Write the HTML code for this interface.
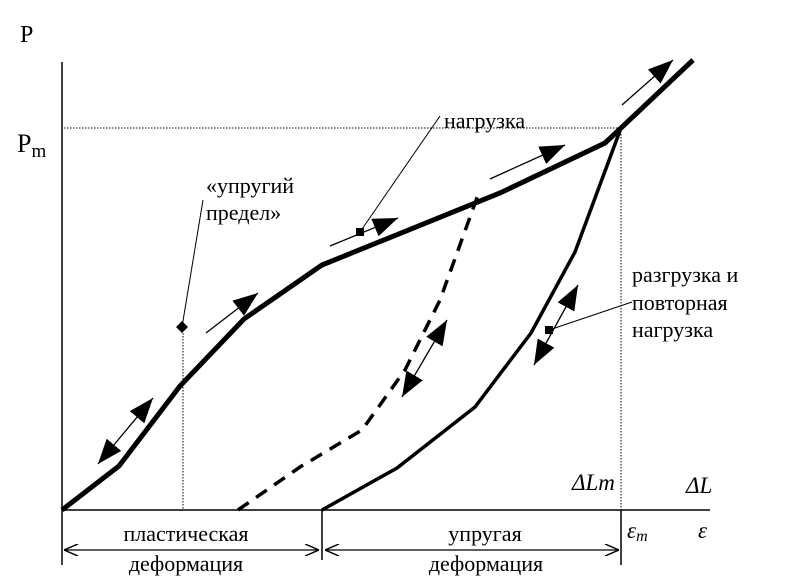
<!DOCTYPE html>
<html><head><meta charset="utf-8"><style>html,body{margin:0;padding:0;background:#fff}svg{display:block}text{font-family:"Liberation Serif",serif}</style></head>
<body>
<svg width="810" height="576" viewBox="0 0 810 576" xmlns="http://www.w3.org/2000/svg">
<defs>
<marker id="ah" viewBox="0 0 10 10" refX="10" refY="5" markerWidth="25" markerHeight="19" orient="auto-start-reverse" markerUnits="userSpaceOnUse" preserveAspectRatio="none">
<path d="M0,0 L10,5 L0,10 z" fill="#000"/>
</marker>
<marker id="sa" viewBox="0 0 10 10" refX="10" refY="5" markerWidth="14" markerHeight="12" orient="auto-start-reverse" markerUnits="userSpaceOnUse" preserveAspectRatio="none">
<path d="M0,0 L10,5 L0,10" fill="none" stroke="#000" stroke-width="1.2"/>
</marker>
</defs>
<line x1="62" y1="62" x2="62" y2="565" stroke="#000" stroke-width="1.5"/>
<line x1="62" y1="510" x2="710" y2="510" stroke="#000" stroke-width="1.5"/>
<line x1="322" y1="510" x2="322" y2="560" stroke="#000" stroke-width="1.5"/>
<line x1="621" y1="510" x2="621" y2="565" stroke="#000" stroke-width="1.5"/>
<line x1="64" y1="128" x2="620" y2="128" stroke="#000" stroke-width="1" stroke-dasharray="1.5,1.5"/>
<line x1="621" y1="128" x2="621" y2="510" stroke="#000" stroke-width="1" stroke-dasharray="1.5,1.5"/>
<line x1="183" y1="330" x2="183" y2="510" stroke="#000" stroke-width="1" stroke-dasharray="1.5,1.5"/>
<line x1="64" y1="550" x2="319" y2="550" stroke="#000" stroke-width="1.3" marker-start="url(#sa)" marker-end="url(#sa)"/>
<line x1="325" y1="550" x2="619" y2="550" stroke="#000" stroke-width="1.3" marker-start="url(#sa)" marker-end="url(#sa)"/>
<polyline points="62,510 119,466 180,386 244,319 322,265 500,193 605,143 621,128 693,60" fill="none" stroke="#000" stroke-width="5"/>
<polyline points="238,510 300,467 362,430 405,370 440,300 478,195" fill="none" stroke="#000" stroke-width="3.5" stroke-dasharray="13,9"/>
<polyline points="322,510 397,468 475,407 531,333 575,252 621,128" fill="none" stroke="#000" stroke-width="3.5"/>
<g stroke="#000" stroke-width="1.3" fill="#000">
<line x1="98" y1="464" x2="153" y2="398" marker-start="url(#ah)" marker-end="url(#ah)"/>
<line x1="206" y1="333" x2="258" y2="293" marker-end="url(#ah)"/>
<line x1="330" y1="246" x2="398" y2="218" marker-end="url(#ah)"/>
<line x1="490" y1="179" x2="565" y2="145" marker-end="url(#ah)"/>
<line x1="622" y1="105" x2="673" y2="60" marker-end="url(#ah)"/>
<line x1="402" y1="397" x2="447" y2="320" marker-start="url(#ah)" marker-end="url(#ah)"/>
<line x1="534" y1="365" x2="578" y2="285" marker-start="url(#ah)" marker-end="url(#ah)"/>
<line x1="360" y1="232" x2="440" y2="116" stroke-width="1"/>
<line x1="182" y1="327" x2="203" y2="200" stroke-width="1"/>
<line x1="549" y1="330" x2="632" y2="302" stroke-width="1"/>
<rect x="356" y="228" width="8" height="8" stroke="none"/>
<rect x="545" y="326" width="8" height="8" stroke="none"/>
<path d="M182,321 L188,327 L182,333 L176,327 z" stroke="none"/>
</g>
<g font-size="22" fill="#000">
<text x="20" y="42" font-size="24">P</text>
<text x="17" y="152" font-size="26">P<tspan font-size="19" dy="5">m</tspan></text>
<text x="206" y="193">«упругий</text>
<text x="206" y="220">предел»</text>
<text x="444" y="128">нагрузка</text>
<text x="632" y="282">разгрузка и</text>
<text x="632" y="310">повторная</text>
<text x="632" y="337">нагрузка</text>
<text x="186" y="541" text-anchor="middle">пластическая</text>
<text x="186" y="571" text-anchor="middle">деформация</text>
<text x="485" y="541" text-anchor="middle">упругая</text>
<text x="486" y="571" text-anchor="middle">деформация</text>
<text x="572" y="490" font-style="italic" font-size="23">ΔLm</text>
<text x="686" y="493" font-style="italic" font-size="23">ΔL</text>
<text x="627" y="538" font-style="italic" font-size="23">ε<tspan font-size="16" dy="3">m</tspan></text>
<text x="698" y="538" font-style="italic" font-size="23">ε</text>
</g>
</svg>
</body></html>
